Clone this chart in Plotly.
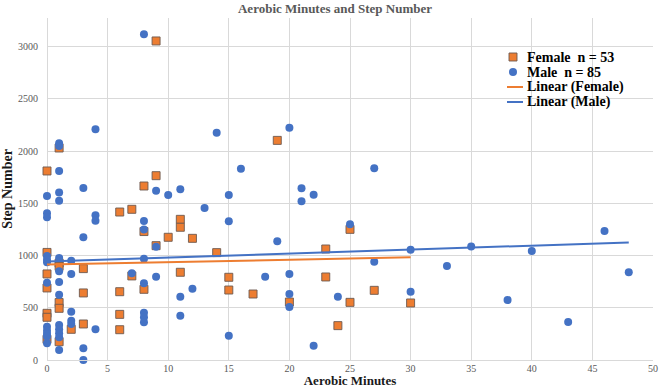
import plotly.graph_objects as go
import numpy as np

# ---------------- data ----------------
female_minutes = [0, 1, 6, 7, 0, 1, 1, 3, 0, 0, 3, 1, 1, 0, 0, 2, 3, 1, 0, 6,
                  7, 6, 6, 9, 19, 9, 8, 8, 11, 11, 10, 12, 9, 14, 11, 15, 8, 15, 17, 20,
                  25, 23, 23, 27, 25, 30, 24]
female_steps = [1810, 2030, 1417, 1443, 1030, 929, 897, 875, 824, 690, 642, 550, 495, 447, 409, 294, 345, 175, 198, 654,
                805, 437, 290, 3055, 2103, 1765, 1666, 1230, 1347, 1271, 1175, 1165, 1095, 1028, 840, 792, 677, 670, 632, 555,
                1251, 1063, 795, 667, 552, 546, 329]

male_minutes = [4, 1, 1, 1, 0, 1, 1, 3, 0, 0, 4, 4, 3, 0, 0, 1, 1, 2, 2, 0,
                1, 1, 2, 2, 2, 4, 1, 1, 1, 1, 1, 0, 0, 0, 0, 3, 3, 8, 14, 20,
                16, 9, 10, 11, 15, 21, 21, 22, 13, 8, 8, 15, 9, 19, 8, 7, 9, 18, 20, 8,
                12, 20, 11, 20, 8, 8, 8, 11, 15, 22, 27, 25, 30, 35, 27, 33, 24, 30, 40, 38,
                43, 46, 48, 0, 0]
male_steps = [2210, 2075, 2050, 1810, 1570, 1605, 1526, 1647, 1405, 1367, 1385, 1334, 1175, 995, 960, 977, 850, 951, 824, 740,
              747, 625, 463, 376, 345, 294, 335, 294, 256, 217, 96, 319, 281, 249, 160, 112, 0, 3120, 2177, 2225,
              1832, 1621, 1580, 1634, 1580, 1644, 1520, 1583, 1455, 1331, 1250, 1328, 1085, 1137, 970, 830, 798, 798, 823, 734,
              683, 632, 606, 508, 453, 409, 361, 424, 233, 137, 1836, 1300, 1056, 1088, 941, 900, 606, 654, 1044, 575,
              364, 1235, 840, 225, 935]

x_ticks = [0, 5, 10, 15, 20, 25, 30, 35, 40, 45, 50]
y_ticks = [0, 500, 1000, 1500, 2000, 2500, 3000]

legend_labels = ["Female\u00a0\u00a0n = 53", "Male\u00a0\u00a0n = 85", "Linear (Female)", "Linear (Male)"]

# ---------------- styling ----------------
ORANGE = "#ED7D31"
BLUE = "#4472C4"
GRID = "#D9D9D9"
TEXT = "#595959"
SERIF = "Liberation Serif, Times New Roman, serif"

W, H = 660, 388
L, R, T, B = 47, 7, 18, 28
PW, PH = W - L - R, H - T - B


def paper(px, py):
    return (px - L) / PW, (H - B - py) / PH


def trend(xs, ys):
    slope, intercept = np.polyfit(np.array(xs, float), np.array(ys, float), 1)
    xr = np.array([min(xs), max(xs)], float)
    return xr, intercept + slope * xr


fig = go.Figure()

fig.add_trace(go.Scatter(
    x=female_minutes, y=female_steps, mode="markers", name=legend_labels[0],
    marker=dict(symbol="square", size=8, color=ORANGE,
                line=dict(color="rgba(110,90,80,0.9)", width=1)),
    cliponaxis=False, showlegend=False))

fig.add_trace(go.Scatter(
    x=male_minutes, y=male_steps, mode="markers", name=legend_labels[1],
    marker=dict(symbol="circle", size=8, color=BLUE, line=dict(width=0)),
    cliponaxis=False, showlegend=False))

fx, fy = trend(female_minutes, female_steps)
mx, my = trend(male_minutes, male_steps)
fig.add_trace(go.Scatter(x=fx, y=fy, mode="lines", name=legend_labels[2],
                         line=dict(color=ORANGE, width=2), showlegend=False))
fig.add_trace(go.Scatter(x=mx, y=my, mode="lines", name=legend_labels[3],
                         line=dict(color=BLUE, width=2), showlegend=False))

# ---------------- manual legend (tight rows like the original) ----------------
rows_py = [57, 72, 87, 102]
sym_px = 513
shapes = []
annotations = []
x0, y0 = paper(sym_px - 4, rows_py[0] + 4)
x1, y1 = paper(sym_px + 4, rows_py[0] - 4)
shapes.append(dict(type="rect", xref="paper", yref="paper", x0=x0, y0=y0, x1=x1, y1=y1,
                   fillcolor=ORANGE, line=dict(color="rgba(110,90,80,0.9)", width=1)))
x0, y0 = paper(sym_px - 4, rows_py[1] + 4)
x1, y1 = paper(sym_px + 4, rows_py[1] - 4)
shapes.append(dict(type="circle", xref="paper", yref="paper", x0=x0, y0=y0, x1=x1, y1=y1,
                   fillcolor=BLUE, line=dict(width=0)))
for py, col in ((rows_py[2], ORANGE), (rows_py[3], BLUE)):
    x0, y0 = paper(507, py)
    x1, _ = paper(523, py)
    shapes.append(dict(type="line", xref="paper", yref="paper", x0=x0, y0=y0, x1=x1, y1=y0,
                       line=dict(color=col, width=2)))
for label, py in zip(legend_labels, rows_py):
    ax, ay = paper(525, py)
    annotations.append(dict(text="<b>" + label + "</b>", xref="paper", yref="paper", x=ax, y=ay,
                            xanchor="left", yanchor="middle", showarrow=False,
                            font=dict(family=SERIF, size=14, color="#000000")))

fig.update_layout(
    width=W, height=H,
    margin=dict(l=L, r=R, t=T, b=B, autoexpand=False),
    paper_bgcolor="white", plot_bgcolor="white",
    title=dict(text="<b>Aerobic Minutes and Step Number</b>",
               x=335 / W, xanchor="center", xref="container",
               y=1 - 8 / H, yanchor="middle", yref="container",
               font=dict(family=SERIF, size=13, color=TEXT)),
    font=dict(family=SERIF, color=TEXT),
    shapes=shapes, annotations=annotations,
    xaxis=dict(range=[0, 50], tickvals=x_ticks, ticktext=[str(v) for v in x_ticks],
               showgrid=True, gridcolor=GRID, gridwidth=1,
               zeroline=True, zerolinecolor=GRID, zerolinewidth=1,
               showline=True, linecolor=GRID, linewidth=1,
               tickfont=dict(family=SERIF, size=10, color=TEXT),
               ticks="", ticklabelstandoff=-1, automargin=False,
               title=dict(text="<b>Aerobic Minutes</b>", standoff=8,
                          font=dict(family=SERIF, size=13, color="#1a1a1a"))),
    yaxis=dict(range=[0, PH / (313.3 / 3000)], tickvals=y_ticks, ticktext=[str(v) for v in y_ticks],
               showgrid=True, gridcolor=GRID, gridwidth=1,
               zeroline=False, showline=False,
               tickfont=dict(family=SERIF, size=10, color=TEXT),
               ticks="", ticklabelstandoff=8, automargin=False,
               title=dict(text="<b>Step Number</b>", standoff=2,
                          font=dict(family=SERIF, size=14, color="#1a1a1a"))),
)

fig.write_html("out.html")
